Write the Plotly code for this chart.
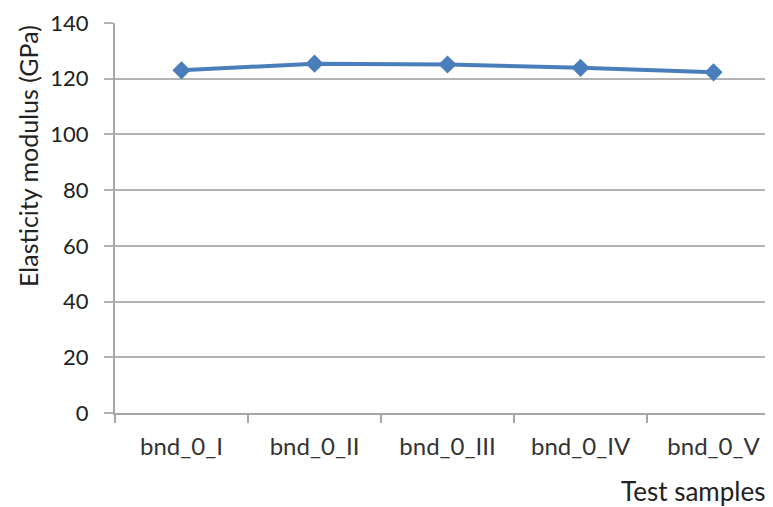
import plotly.graph_objects as go

categories = ["bnd_0_I", "bnd_0_II", "bnd_0_III", "bnd_0_IV", "bnd_0_V"]
modulus = [123.0, 125.4, 125.1, 123.9, 122.3]
y_ticks = [0, 20, 40, 60, 80, 100, 120, 140]

# page body has an 8px default margin, so the figure is drawn 8px in from the corner
OFF = 8
W, H = 773 - OFF, 507 - OFF
L, R, T = 115 - OFF, 0, 23 - OFF
B = H - (413 - OFF)
PW, PH = W - L - R, H - T - B
FONT = "Lato"


def px_x(x):
    return (x - OFF - L) / PW


def px_y(y):
    return (H - B - (y - OFF)) / PH


fig = go.Figure()
fig.add_trace(go.Scatter(
    x=categories, y=modulus, mode="lines+markers",
    line=dict(color="#4a7ebb", width=4),
    marker=dict(symbol="diamond", size=14, color="#4a7ebb"),
    showlegend=False,
))

fig.update_layout(
    width=W, height=H,
    margin=dict(l=L, r=R, t=T, b=B),
    paper_bgcolor="white", plot_bgcolor="white",
    font=dict(family=FONT, color="#222222"),
    xaxis=dict(
        type="category", range=[-0.5, 4.447], showgrid=False,
        showline=True, linecolor="#a6a6a6", linewidth=2,
        ticks="outside", tickson="boundaries", ticklen=8, tickcolor="#a6a6a6", tickwidth=2,
        tickfont=dict(size=24, family=FONT, color="#333333"), ticklabelstandoff=11,
        zeroline=False,
    ),
    yaxis=dict(
        range=[0, 140], tickvals=y_ticks, showgrid=True, gridcolor="#b3b3b3", gridwidth=1.5,
        showline=True, linecolor="#a6a6a6", linewidth=2,
        ticks="outside", ticklen=9, tickcolor="#b3b3b3", tickwidth=1.5,
        tickfont=dict(size=22, family=FONT, color="#222222"), ticklabelstandoff=11,
        zeroline=False,
    ),
    annotations=[
        dict(text="Elasticity modulus (GPa)", textangle=-90, showarrow=False,
             xref="paper", yref="paper", x=px_x(28), xanchor="center",
             y=px_y(156), yanchor="middle",
             font=dict(size=25, family=FONT, color="#222222")),
        dict(text="Test samples", showarrow=False,
             xref="paper", yref="paper", x=px_x(767), xanchor="right",
             y=px_y(491), yanchor="middle",
             font=dict(size=26, family=FONT, color="#222222")),
    ],
)

fig.write_html("out.html")
